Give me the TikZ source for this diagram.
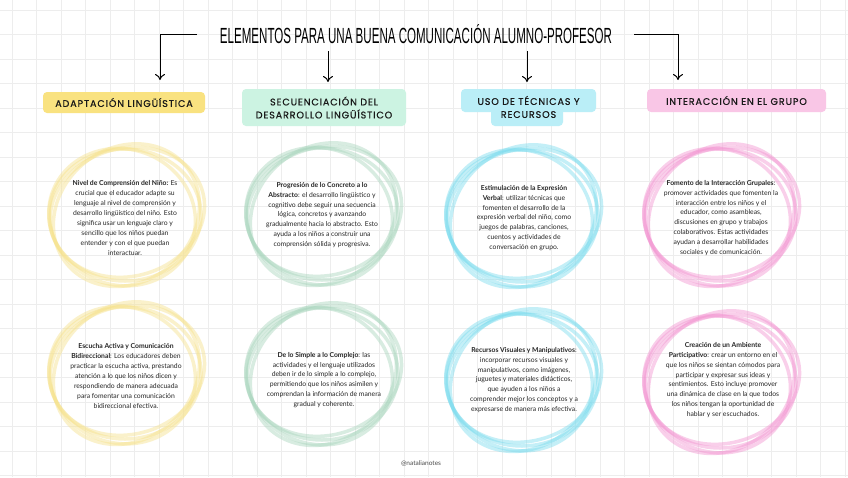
\documentclass[tikz,border=0pt]{standalone}
\usepackage{fontspec}
\setmainfont{Lato}
\newfontfamily\titlefont{Liberation Sans}
\newfontfamily\headfont[LetterSpace=9,FakeBold=0.6]{Poppins}
\usetikzlibrary{arrows.meta}
\definecolor{yelhead}{RGB}{249,226,128}
\definecolor{yelring}{RGB}{246,226,140}
\definecolor{minthead}{RGB}{204,243,226}
\definecolor{mintring}{RGB}{170,214,190}
\definecolor{cyanhead}{RGB}{186,238,247}
\definecolor{cyanring}{RGB}{125,220,238}
\definecolor{pinkhead}{RGB}{249,198,230}
\definecolor{pinkring}{RGB}{243,150,210}
\tikzset{head/.style={rounded corners=4pt,align=center,inner sep=0pt,font=\headfont\fontsize{9.6}{13}\selectfont,text=black!90}}
\tikzset{note/.style={align=center,inner sep=0pt,font=\fontsize{6.8}{9.9}\selectfont,text=black!85}}
\tikzset{gridline/.style={draw=black!7,line width=0.5pt}}
\tikzset{pointer/.style={-{To[length=6pt,width=10pt]},line width=1pt}}
\tikzset{ring/.style={line width=3.5pt,opacity=.45}}
% four loose strokes round one centre
\newcommand\handring[2]{%
  \foreach \dx/\dy/\rx/\ry/\rot in {0/0/76/66/0,3/-2/78/64/15,-2/3/74/68/-20,1/1/77/67/40}
    \draw[ring,draw=#2,rotate around={\rot:(#1)}] ([shift={(\dx,\dy)}]#1) ellipse [x radius=\rx,y radius=\ry];
}
\begin{document}
\begin{tikzpicture}[x=1pt,y=-1pt]
\useasboundingbox (0,0) rectangle (848,477);
\fill[white] (0,0) rectangle (848,477);
\foreach \x in {12,36.5,...,848} \draw[gridline] (\x,0) -- (\x,477);
\foreach \y in {10,34.5,...,477} \draw[gridline] (0,\y) -- (848,\y);

\node (title) at (416,34) {\resizebox{392pt}{19pt}{\titlefont ELEMENTOS PARA UNA BUENA COMUNICACIÓN ALUMNO-PROFESOR}};

\coordinate (l1) at (197,34); \coordinate (a1) at (160,80);
\coordinate (s2) at (328,51); \coordinate (a2) at (328,82);
\coordinate (s3) at (527,51); \coordinate (a3) at (527,82);
\coordinate (r4) at (634,34); \coordinate (a4) at (678,80);
\draw[pointer] (l1) -| (a1);
\draw[pointer] (s2) -- (a2);
\draw[pointer] (s3) -- (a3);
\draw[pointer] (r4) -| (a4);

\node[head, fill=yelhead, minimum width=162, minimum height=21] (adapt) at (124,102.5) {ADAPTACIÓN LINGÜÍSTICA};
\node[head, fill=minthead, minimum width=164, minimum height=37] (secuen) at (324,107.5) {SECUENCIACIÓN DEL\\DESARROLLO LINGÜÍSTICO};
\fill[cyanhead, rounded corners=4pt] (461,89) rectangle (596,112);
\fill[cyanhead, rounded corners=4pt] (491,105) rectangle (563,126);
\node[head] (tecnicas) at (528.5,107) {USO DE TÉCNICAS Y\\RECURSOS};
\node[head, fill=pinkhead, minimum width=179, minimum height=23] (grupo) at (736.5,100.5) {INTERACCIÓN EN EL GRUPO};

\coordinate (c11) at (125,215); \coordinate (c12) at (125,373);
\coordinate (c21) at (322,214); \coordinate (c22) at (322,374);
\coordinate (c31) at (522,216); \coordinate (c32) at (522,380);
\coordinate (c41) at (720,215); \coordinate (c42) at (720,382);
\handring{c11}{yelring} \handring{c12}{yelring}
\handring{c21}{mintring} \handring{c22}{mintring}
\handring{c31}{cyanring} \handring{c32}{cyanring}
\handring{c41}{pinkring} \handring{c42}{pinkring}

\node[note] (nivel) at (125,218) {\textbf{Nivel de Comprensión del Niño:} Es\\crucial que el educador adapte su\\lenguaje al nivel de comprensión y\\desarrollo lingüístico del niño. Esto\\significa usar un lenguaje claro y\\sencillo que los niños puedan\\entender y con el que puedan\\interactuar.};
\node[note] (escucha) at (126,376) {\textbf{Escucha Activa y Comunicación}\\\textbf{Bidireccional}: Los educadores deben\\practicar la escucha activa, prestando\\atención a lo que los niños dicen y\\respondiendo de manera adecuada\\para fomentar una comunicación\\bidireccional efectiva.};
\node[note] (concreto) at (322,215) {\textbf{Progresión de lo Concreto a lo}\\\textbf{Abstracto}: el desarrollo lingüístico y\\cognitivo debe seguir una secuencia\\lógica, concretos y avanzando\\gradualmente hacia lo abstracto. Esto\\ayuda a los niños a construir una\\comprensión sólida y progresiva.};
\node[note] (simple) at (324,380) {\textbf{De lo Simple a lo Complejo}: las\\actividades y el lenguaje utilizados\\deben ir de lo simple a lo complejo,\\permitiendo que los niños asimilen y\\comprendan la información de manera\\gradual y coherente.};
\node[note] (verbal) at (524,218) {\textbf{Estimulación de la Expresión}\\\textbf{Verbal}: utilizar técnicas que\\fomenten el desarrollo de la\\expresión verbal del niño, como\\juegos de palabras, canciones,\\cuentos y actividades de\\conversación en grupo.};
\node[note] (visuales) at (524,380) {\textbf{Recursos Visuales y Manipulativos}:\\incorporar recursos visuales y\\manipulativos, como imágenes,\\juguetes y materiales didácticos,\\que ayuden a los niños a\\comprender mejor los conceptos y a\\expresarse de manera más efectiva.};
\node[note] (fomento) at (721,218) {\textbf{Fomento de la Interacción Grupales}:\\promover actividades que fomenten la\\interacción entre los niños y el\\educador, como asambleas,\\discusiones en grupo y trabajos\\colaborativos. Estas actividades\\ayudan a desarrollar habilidades\\sociales y de comunicación.};
\node[note] (ambiente) at (723,380) {\textbf{Creación de un Ambiente}\\\textbf{Participativo}: crear un entorno en el\\que los niños se sientan cómodos para\\participar y expresar sus ideas y\\sentimientos. Esto incluye promover\\una dinámica de clase en la que todos\\los niños tengan la oportunidad de\\hablar y ser escuchados.};

\node[note, font=\fontsize{6.5}{8}\selectfont, text=black!70] (credit) at (421,463) {@natalianotes};
\end{tikzpicture}
\end{document}
